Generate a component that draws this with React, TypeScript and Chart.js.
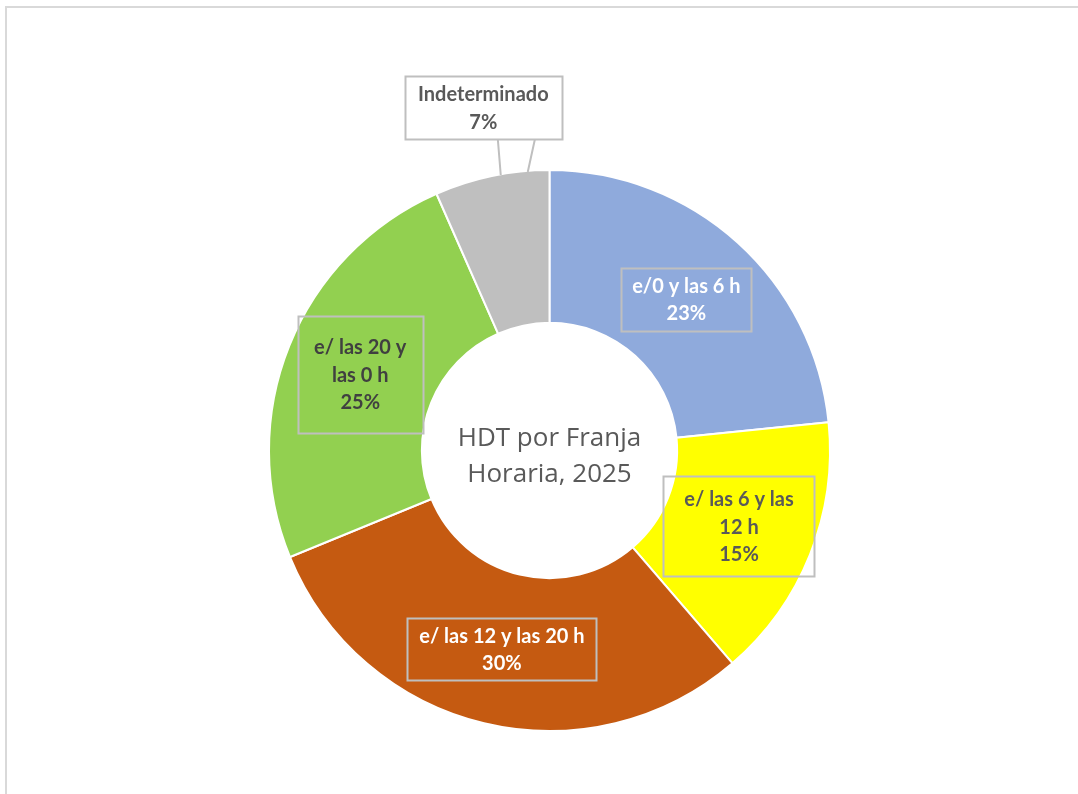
import React, { useEffect, useRef } from "react";
import { Chart, registerables } from "chart.js";

Chart.register(...registerables);

const categories = ["e/0 y las 6 h", "e/ las 6 y las 12 h", "e/ las 12 y las 20 h", "e/ las 20 y las 0 h", "Indeterminado"];
const values = [23.4, 15.3, 30.1, 24.6, 6.6];
const percentLabels = ["23%", "15%", "30%", "25%", "7%"];
const labelLines = [
  ["e/0 y las 6 h"],
  ["e/ las 6 y las", "12 h"],
  ["e/ las 12 y las 20 h"],
  ["e/ las 20 y", "las 0 h"],
  ["Indeterminado"],
];
const colors = ["#8faadc", "#ffff00", "#c55a11", "#92d050", "#bfbfbf"];
const textColors = ["#ffffff", "#595959", "#ffffff", "#404040", "#595959"];
const boxWidths = [130, 151, 189, 125, 157];
const boxHeights = [63, 100, 62, 117, 63];
const centerTitle = ["HDT por Franja", "Horaria, 2025"];

const FONT = "Lato, 'Open Sans', sans-serif";

const labelPlugin = {
  id: "boxLabels",
  afterDatasetsDraw(chart: any) {
    const ctx = chart.ctx as CanvasRenderingContext2D;
    const meta = chart.getDatasetMeta(0);
    const lineH = 27.5;
    ctx.save();
    ctx.font = `bold 20px ${FONT}`;
    ctx.textAlign = "center";
    ctx.textBaseline = "middle";
    meta.data.forEach((arc: any, i: number) => {
      const lines = [...labelLines[i], percentLabels[i]];
      const h = boxHeights[i];
      const w = boxWidths[i];
      let cx: number, cy: number;
      const isOutside = i === 4;
      const mid = (arc.startAngle + arc.endAngle) / 2;
      const ax = arc.x + Math.cos(mid) * arc.outerRadius;
      const ay = arc.y + Math.sin(mid) * arc.outerRadius;
      if (!isOutside) {
        const p = arc.getCenterPoint();
        cx = p.x;
        cy = p.y;
      } else {
        cx = ax + Math.cos(mid) * 70 + 6;
        cy = ay + Math.sin(mid) * 70;
      }
      const x0 = Math.round(cx - w / 2) + 0.5;
      const y0 = Math.round(cy - h / 2) + 0.5;
      ctx.lineWidth = 2;
      ctx.strokeStyle = "#bfbfbf";
      if (isOutside) {
        ctx.fillStyle = "#ffffff";
        ctx.fillRect(x0, y0, w, h);
        ctx.beginPath();
        ctx.moveTo(cx + 14.5, y0 + h);
        ctx.lineTo(ax + 9, ay - 1);
        ctx.moveTo(cx + 51.5, y0 + h);
        ctx.lineTo(ax + 36, ay - 4);
        ctx.stroke();
      }
      ctx.strokeRect(x0, y0, w, h);
      ctx.fillStyle = textColors[i];
      const startY = cy + 1 - ((lines.length - 1) * lineH) / 2;
      lines.forEach((t, j) => {
        ctx.fillText(t, cx, startY + j * lineH);
      });
    });
    const a = meta.data[0];
    ctx.font = `26px 'Open Sans', sans-serif`;
    ctx.fillStyle = "#595959";
    ctx.fillText(centerTitle[0], a.x, a.y - 12);
    ctx.fillText(centerTitle[1], a.x, a.y + 24);
    ctx.restore();
  },
};

export default function App() {
  const ref = useRef<HTMLCanvasElement>(null);
  useEffect(() => {
    if (!ref.current) return;
    const chart = new Chart(ref.current, {
      type: "doughnut",
      data: {
        labels: categories,
        datasets: [
          {
            data: values,
            backgroundColor: colors,
            borderColor: "#ffffff",
            borderWidth: 2,
          },
        ],
      },
      options: {
        animation: false,
        responsive: false,
        cutout: "45.5%",
        layout: { padding: { left: 268, right: 247, top: 169, bottom: 62 } },
        plugins: {
          legend: { display: false },
          tooltip: { enabled: false },
          title: { display: false },
        },
      },
      plugins: [labelPlugin],
    });
    return () => chart.destroy();
  }, []);
  return (
    <div style={{ position: "fixed", left: 0, top: 0, width: 1078, height: 794, overflow: "hidden", background: "#fff" }}>
      <div
        style={{
          position: "absolute",
          left: 5,
          top: 6,
          width: 1100,
          height: 820,
          border: "2px solid #d9d9d9",
          boxSizing: "border-box",
        }}
      />
      <canvas ref={ref} width={1078} height={794} style={{ position: "absolute", left: 0, top: 0 }} />
    </div>
  );
}
